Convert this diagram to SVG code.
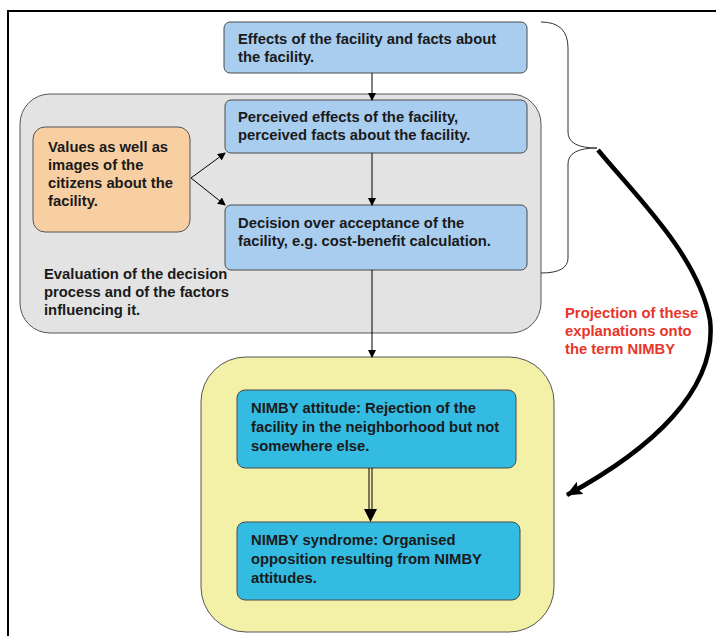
<svg xmlns="http://www.w3.org/2000/svg" width="716" height="636" viewBox="0 0 716 636">
<defs>
<style>
text{font-family:"Liberation Sans",Arial,sans-serif;font-weight:bold;font-size:14.8px;fill:#1a1a1a}
.blue{fill:#a9cdee;stroke:#4a4a4a;stroke-width:1}
.cyan{fill:#33bbe2;stroke:#4a4a4a;stroke-width:1}
.red{fill:#e8352a}
.ln{stroke:#000;stroke-width:1;fill:none}
</style>
<marker id="ah" markerWidth="8" markerHeight="8" refX="7" refY="4" orient="auto" markerUnits="userSpaceOnUse">
<path d="M0,0 L8,4 L0,8 Z" fill="#000"/>
</marker>
<marker id="ah2" markerWidth="16" markerHeight="14" refX="15" refY="7" orient="auto" markerUnits="userSpaceOnUse">
<path d="M0,0 L16,7 L0,14 L3,7 Z" fill="#000"/>
</marker>
</defs>
<rect x="0" y="0" width="716" height="636" fill="#fff"/>
<path d="M8,640 L8,11 L720,11" fill="none" stroke="#000" stroke-width="2"/>

<g id="evaluation">
<rect x="20" y="94" width="521" height="239" rx="30" fill="#e3e3e3" stroke="#555" stroke-width="1"/>
<text x="44" y="279">Evaluation of the decision</text>
<text x="44" y="297">process and of the factors</text>
<text x="44" y="315">influencing it.</text>
</g>

<g id="nimby">
<rect x="201" y="357" width="353" height="275" rx="45" fill="#f3f0a8" stroke="#555" stroke-width="1"/>
</g>

<g id="effects">
<rect class="blue" x="224" y="22" width="303" height="51" rx="6"/>
<text x="238" y="44">Effects of the facility and facts about</text>
<text x="238" y="62">the facility.</text>
</g>

<g id="perceived">
<rect class="blue" x="225" y="100" width="302" height="53" rx="6"/>
<text x="238" y="122">Perceived effects of the facility,</text>
<text x="238" y="140">perceived facts about the facility.</text>
</g>

<g id="values">
<rect x="33" y="127" width="157" height="105" rx="12" fill="#f8cfa2" stroke="#555" stroke-width="1"/>
<text x="48" y="152">Values as well as</text>
<text x="48" y="170">images of the</text>
<text x="48" y="188">citizens about the</text>
<text x="48" y="206">facility.</text>
</g>

<g id="decision">
<rect class="blue" x="225" y="205" width="302" height="65" rx="6"/>
<text x="238" y="228">Decision over acceptance of the</text>
<text x="238" y="246">facility, e.g. cost-benefit calculation.</text>
</g>

<g id="attitude">
<rect class="cyan" x="237" y="390" width="279" height="78" rx="8"/>
<text x="251" y="413">NIMBY attitude: Rejection of the</text>
<text x="251" y="432">facility in the neighborhood but not</text>
<text x="251" y="451">somewhere else.</text>
</g>

<g id="syndrome">
<rect class="cyan" x="237" y="522" width="283" height="78" rx="8"/>
<text x="251" y="545">NIMBY syndrome: Organised</text>
<text x="251" y="564">opposition resulting from NIMBY</text>
<text x="251" y="583">attitudes.</text>
</g>

<g id="projection">
<text class="red" x="565" y="318">Projection of these</text>
<text class="red" x="565" y="336">explanations onto</text>
<text class="red" x="565" y="354">the term NIMBY</text>
</g>

<g id="connectors">
<line class="ln" x1="372" y1="73" x2="372" y2="100" marker-end="url(#ah)"/>
<line class="ln" x1="372" y1="153" x2="372" y2="205" marker-end="url(#ah)"/>
<line class="ln" x1="372" y1="270" x2="372" y2="357" marker-end="url(#ah)"/>
<line class="ln" x1="191" y1="178" x2="225" y2="153" marker-end="url(#ah)"/>
<line class="ln" x1="191" y1="178" x2="225" y2="205" marker-end="url(#ah)"/>
<line x1="369" y1="468" x2="369" y2="510" stroke="#000" stroke-width="1"/>
<line x1="372" y1="468" x2="372" y2="510" stroke="#000" stroke-width="1"/>
<path d="M364,509 L377,509 L370.5,522 Z" fill="#000"/>
<path d="M541,22 Q568,22 568,48 L568,132 Q568,148 597,148 Q568,148 568,164 L568,258 Q568,273 541,273" fill="none" stroke="#333" stroke-width="1"/>
<path d="M598,150 C635,195 698,255 710,320 C718,390 650,450 567,495" fill="none" stroke="#000" stroke-width="4.5" marker-end="url(#ah2)"/>
</g>
</svg>
